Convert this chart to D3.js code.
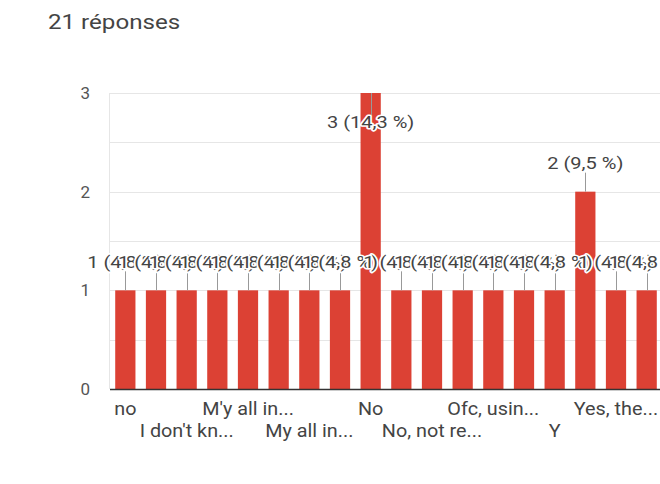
<!DOCTYPE html>
<html>
<head>
<meta charset="utf-8">
<script src="https://cdn.jsdelivr.net/npm/d3@7"></script>
<style>
  html, body { margin: 0; padding: 0; background: #fff; }
  svg { display: block; font-family: Roboto, "Noto Sans", sans-serif; }
</style>
</head>
<body>
<svg id="chart" width="660" height="484"></svg>
<script>
// ---- data ----
const title = "21 réponses";
const totalResponses = 21;
// categories in chart order (only every other label is shown on the axis)
const categories = [
  "no", "Depends", "I don't kn...", "Maybe", "M'y all in...", "Mostly",
  "My all in...", "Never", "No", "No never", "No, not re...", "Not really",
  "Ofc, usin...", "Sometimes", "Y", "Yes", "Yes, the...", "Yes, always"
];
const counts = [1, 1, 1, 1, 1, 1, 1, 1, 3, 1, 1, 1, 1, 1, 1, 2, 1, 1];
const yTicks = [0, 1, 2, 3];
const gridValues = [0.5, 1, 1.5, 2, 2.5, 3];

// ---- layout ----
const svg = d3.select("#chart");
const plot = { left: 110, right: 662, top: 93, bottom: 389 };

const x = d3.scaleBand()
  .domain(categories)
  .range([plot.left, plot.right])
  .paddingInner(0.34)
  .paddingOuter(0.17);

const y = d3.scaleLinear()
  .domain([0, 3])
  .range([plot.bottom, plot.top]);

const frFmt = v => d3.format(".1f")(v).replace(".", ",");
const labelText = v => `${v} (${frFmt(v / totalResponses * 100)} %)`;

// helper: place text with a horizontal stretch around its anchor
const place = (sel, fx, fy, sx) =>
  sel.attr("transform", (d, i) => `translate(${fx(d, i)},${fy(d, i)}) scale(${sx},1)`);

// title
svg.append("text")
  .attr("transform", "translate(48,29) scale(1.15,1)")
  .attr("font-size", 21)
  .attr("fill", "#444")
  .text(title);

// gridlines
svg.append("g").selectAll("line").data(gridValues).join("line")
  .attr("x1", plot.left).attr("x2", plot.right)
  .attr("y1", d => Math.round(y(d)) + 0.5).attr("y2", d => Math.round(y(d)) + 0.5)
  .attr("stroke", "#e6e6e6").attr("stroke-width", 1);

// left faint border
svg.append("line")
  .attr("x1", plot.left - 0.5).attr("x2", plot.left - 0.5)
  .attr("y1", plot.top).attr("y2", plot.bottom)
  .attr("stroke", "#e6e6e6");

// y tick labels
svg.append("g").selectAll("text").data(yTicks).join("text")
  .attr("x", 90).attr("y", d => y(d))
  .attr("text-anchor", "end")
  .attr("dominant-baseline", "central")
  .attr("font-size", 17)
  .attr("fill", "#555")
  .text(d => d);

// bars
const data = categories.map((c, i) => ({ c, v: counts[i], i }));
svg.append("g").selectAll("rect").data(data).join("rect")
  .attr("x", d => x(d.c))
  .attr("width", x.bandwidth())
  .attr("y", d => y(d.v))
  .attr("height", d => y(0) - y(d.v))
  .attr("fill", "#dc4134");

// baseline
svg.append("line")
  .attr("x1", plot.left).attr("x2", plot.right)
  .attr("y1", y(0) + 0.5).attr("y2", y(0) + 0.5)
  .attr("stroke", "#333").attr("stroke-width", 1.5);

// annotations (stems + labels)
const labelPos = d => {
  const top = y(d.v);
  const above = top - 28 > plot.top + 10;
  return above
    ? { cy: top - 28, s1: top, s2: top - 19 }
    : { cy: top + 29, s1: top, s2: top + 22 };
};
const cx = d => x(d.c) + x.bandwidth() / 2;

svg.append("g").selectAll("line").data(data).join("line")
  .attr("x1", d => Math.round(cx(d)) + 0.5).attr("x2", d => Math.round(cx(d)) + 0.5)
  .attr("y1", d => labelPos(d).s1).attr("y2", d => labelPos(d).s2)
  .attr("stroke", "#999").attr("stroke-width", 1);

const ann = svg.append("g");
data.forEach(d => {
  const p = labelPos(d);
  ann.append("text")
    .attr("transform", `translate(${cx(d)},${p.cy}) scale(1.25,1)`)
    .attr("text-anchor", "middle")
    .attr("dominant-baseline", "central")
    .attr("font-size", 16)
    .attr("fill", "#444")
    .attr("stroke", "#fff").attr("stroke-width", 3)
    .attr("paint-order", "stroke")
    .attr("stroke-linejoin", "round")
    .text(labelText(d.v));
});

// x labels (every other category, two staggered rows)
svg.append("g").selectAll("text")
  .data(data.filter(d => d.i % 2 === 0)).join("text")
  .call(place, d => cx(d), d => (d.i % 4 === 0) ? 415 : 437, 1.1)
  .attr("text-anchor", "middle")
  .attr("font-size", 18)
  .attr("fill", "#444")
  .text(d => d.c);
</script>
</body>
</html>
